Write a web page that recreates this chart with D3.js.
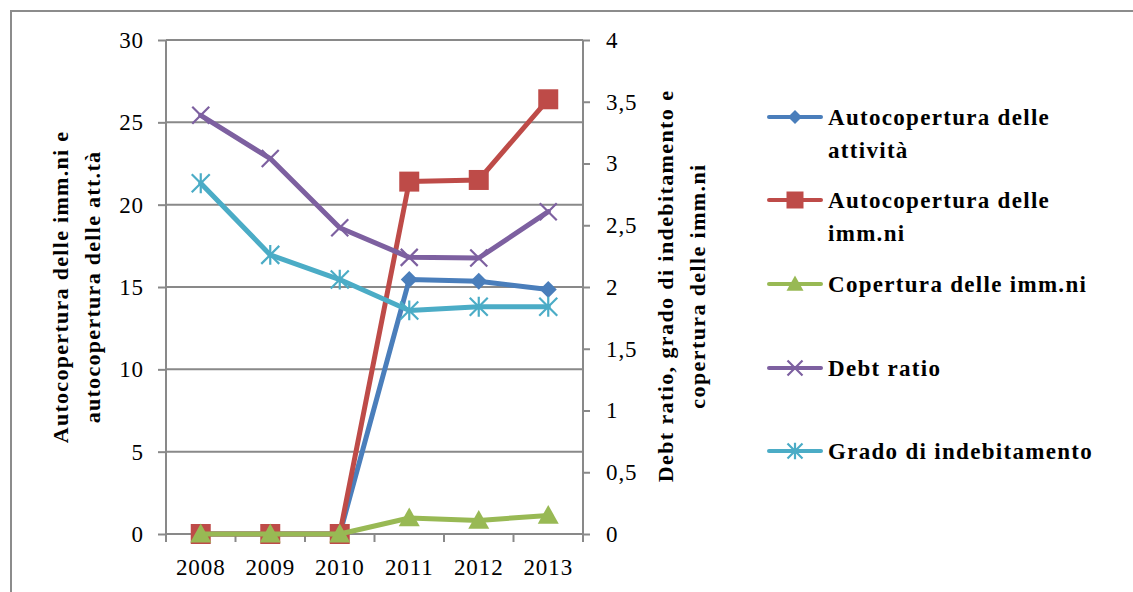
<!DOCTYPE html>
<html>
<head>
<meta charset="utf-8">
<script src="https://cdn.jsdelivr.net/npm/d3@7"></script>
<style>
  html, body { margin: 0; padding: 0; background: #fff; }
  svg { display: block; font-family: "Liberation Serif", "Times New Roman", serif; }
</style>
</head>
<body>
<svg id="chart" width="1133" height="592"></svg>
<script>
// Years on the category axis
const years = ["2008", "2009", "2010", "2011", "2012", "2013"];

// Left-axis series
const autocoperturaAttivita = [0, 0, 0, 15.45, 15.35, 14.85];
const autocoperturaImmni    = [0, 0, 0, 21.4, 21.5, 26.4];

// Right-axis series
const coperturaImmni        = [0, 0, 0, 0.13, 0.11, 0.15];
const debtRatio             = [3.39, 3.04, 2.48, 2.24, 2.235, 2.61];
const gradoIndebitamento    = [2.84, 2.26, 2.06, 1.81, 1.84, 1.84];

// Tick labels
const leftTicks  = [0, 5, 10, 15, 20, 25, 30];
const rightTicks = [0, 0.5, 1, 1.5, 2, 2.5, 3, 3.5, 4];
const rightTickLabels = ["0", "0,5", "1", "1,5", "2", "2,5", "3", "3,5", "4"];

const leftTitle  = ["Autocopertura delle imm.ni e", "autocopertura delle att.tà"];
const rightTitle = ["Debt ratio, grado di indebitamento e", "copertura delle imm.ni"];

const series = [
  { name: ["Autocopertura delle", "attività"], values: autocoperturaAttivita, axis: "L", color: "#4a7ebb", marker: "diamond" },
  { name: ["Autocopertura delle", "imm.ni"],   values: autocoperturaImmni,    axis: "L", color: "#be4b48", marker: "square" },
  { name: ["Copertura delle imm.ni"],          values: coperturaImmni,        axis: "R", color: "#98b954", marker: "triangle" },
  { name: ["Debt ratio"],                      values: debtRatio,             axis: "R", color: "#7d60a0", marker: "x" },
  { name: ["Grado di indebitamento"],          values: gradoIndebitamento,    axis: "R", color: "#4bacc6", marker: "star" }
];

const svg = d3.select("#chart");
const plot = { left: 166, right: 583, top: 40, bottom: 534 };
const gridColor = "#898989";

// Outer frame
svg.append("rect")
  .attr("x", 11).attr("y", 11).attr("width", 1200).attr("height", 700)
  .attr("fill", "none").attr("stroke", "#8c8c8c").attr("stroke-width", 2);

const x = d3.scaleBand().domain(years).range([plot.left, plot.right]).padding(0);
const yL = d3.scaleLinear().domain([0, 30]).range([plot.bottom, plot.top]);
const yR = d3.scaleLinear().domain([0, 4]).range([plot.bottom, plot.top]);

// Horizontal gridlines
svg.append("g").selectAll("line").data(leftTicks.filter(d => d > 0)).join("line")
  .attr("x1", plot.left).attr("x2", plot.right)
  .attr("y1", d => yL(d)).attr("y2", d => yL(d))
  .attr("stroke", gridColor).attr("stroke-width", 2);

function styleTickText(sel) {
  sel.attr("font-size", 23).attr("letter-spacing", 0.9).attr("fill", "#000")
    .attr("font-family", "Liberation Serif");
}

// Left axis
const axL = svg.append("g").attr("transform", `translate(${plot.left},0)`)
  .call(d3.axisLeft(yL).tickValues(leftTicks).tickSize(8).tickPadding(14).tickFormat(d3.format("d")));
axL.select(".domain").attr("stroke", gridColor).attr("stroke-width", 2).attr("d", `M0,${plot.top}V${plot.bottom + 8}`);
axL.selectAll(".tick line").attr("stroke", gridColor).attr("stroke-width", 2);
styleTickText(axL.selectAll(".tick text"));

// Right axis
const axR = svg.append("g").attr("transform", `translate(${plot.right},0)`)
  .call(d3.axisRight(yR).tickValues(rightTicks).tickSize(7).tickPadding(16)
    .tickFormat((d, i) => rightTickLabels[i]));
axR.select(".domain").attr("stroke", gridColor).attr("stroke-width", 2).attr("d", `M0,${plot.top}V${plot.bottom + 8}`);
axR.selectAll(".tick line").attr("stroke", gridColor).attr("stroke-width", 2);
styleTickText(axR.selectAll(".tick text"));

// Category axis
const axX = svg.append("g").attr("transform", `translate(0,${plot.bottom})`)
  .call(d3.axisBottom(x).tickSize(0).tickPadding(25));
axX.select(".domain").attr("stroke", gridColor).attr("stroke-width", 2).attr("d", `M${plot.left},0H${plot.right}`);
styleTickText(axX.selectAll(".tick text"));
axX.append("g").selectAll("line").data(years.concat(["end"])).join("line")
  .attr("x1", (d, i) => plot.left + i * x.bandwidth()).attr("x2", (d, i) => plot.left + i * x.bandwidth())
  .attr("y1", 0).attr("y2", 8)
  .attr("stroke", gridColor).attr("stroke-width", 2);

// Axis titles
function title(lines, cx, cy, ls) {
  const t = svg.append("text")
    .attr("transform", `translate(${cx},${cy}) rotate(-90)`)
    .attr("text-anchor", "middle").attr("font-weight", "bold")
    .attr("font-size", 22).attr("letter-spacing", ls).attr("fill", "#000");
  lines.forEach((l, i) => t.append("tspan").attr("x", 0).attr("dy", i === 0 ? 0 : 32).text(l));
}
title(leftTitle, 68, 287, 1.3);
title(rightTitle, 673, 286, 1.4);

// Marker shapes
function markerPath(type, s) {
  const h = s / 2;
  switch (type) {
    case "diamond": return `M0,${-h}L${h},0L0,${h}L${-h},0Z`;
    case "square": return `M${-h},${-h}H${h}V${h}H${-h}Z`;
    case "triangle": return `M0,${-h * 1.0}L${h},${h * 0.8}L${-h},${h * 0.8}Z`;
    case "x": return `M${-h},${-h}L${h},${h}M${-h},${h}L${h},${-h}`;
    case "star": return `M${-h},${-h}L${h},${h}M${-h},${h}L${h},${-h}M0,${-h * 1.1}V${h * 1.1}`;
  }
}
const markerSize = { diamond: 17, square: 20, triangle: 21, x: 17, star: 18 };
const legendSize = { diamond: 14, square: 17, triangle: 17, x: 15, star: 15 };

function drawMarker(g, type, size, color) {
  const filled = type === "diamond" || type === "square" || type === "triangle";
  g.append("path").attr("d", markerPath(type, size))
    .attr("fill", filled ? color : "none")
    .attr("stroke", color).attr("stroke-width", filled ? 0 : 2.2);
}

// Series lines and markers
series.forEach(s => {
  const y = s.axis === "L" ? yL : yR;
  const cx = d => x(d) + x.bandwidth() / 2;
  const line = d3.line().x((d, i) => cx(years[i])).y(d => y(d));
  const g = svg.append("g");
  g.append("path").datum(s.values).attr("d", line)
    .attr("fill", "none").attr("stroke", s.color).attr("stroke-width", 5)
    .attr("stroke-linejoin", "round").attr("stroke-linecap", "round");
  s.values.forEach((v, i) => {
    const m = g.append("g").attr("transform", `translate(${cx(years[i])},${y(v)})`);
    drawMarker(m, s.marker, markerSize[s.marker], s.color);
  });
});

// Legend
const legendRows = [117, 200, 284, 368, 451];
series.forEach((s, i) => {
  const g = svg.append("g").attr("transform", `translate(0,${legendRows[i]})`);
  g.append("line").attr("x1", 769).attr("x2", 821).attr("y1", 0).attr("y2", 0)
    .attr("stroke", s.color).attr("stroke-width", 4).attr("stroke-linecap", "round");
  const m = g.append("g").attr("transform", "translate(795,0)");
  drawMarker(m, s.marker, legendSize[s.marker], s.color);
  const t = g.append("text").attr("x", 828).attr("y", 8)
    .attr("font-size", 23).attr("font-weight", "bold").attr("letter-spacing", 1.3).attr("fill", "#000");
  s.name.forEach((l, j) => t.append("tspan").attr("x", 828).attr("dy", j === 0 ? 0 : 33).text(l));
});
</script>
</body>
</html>
